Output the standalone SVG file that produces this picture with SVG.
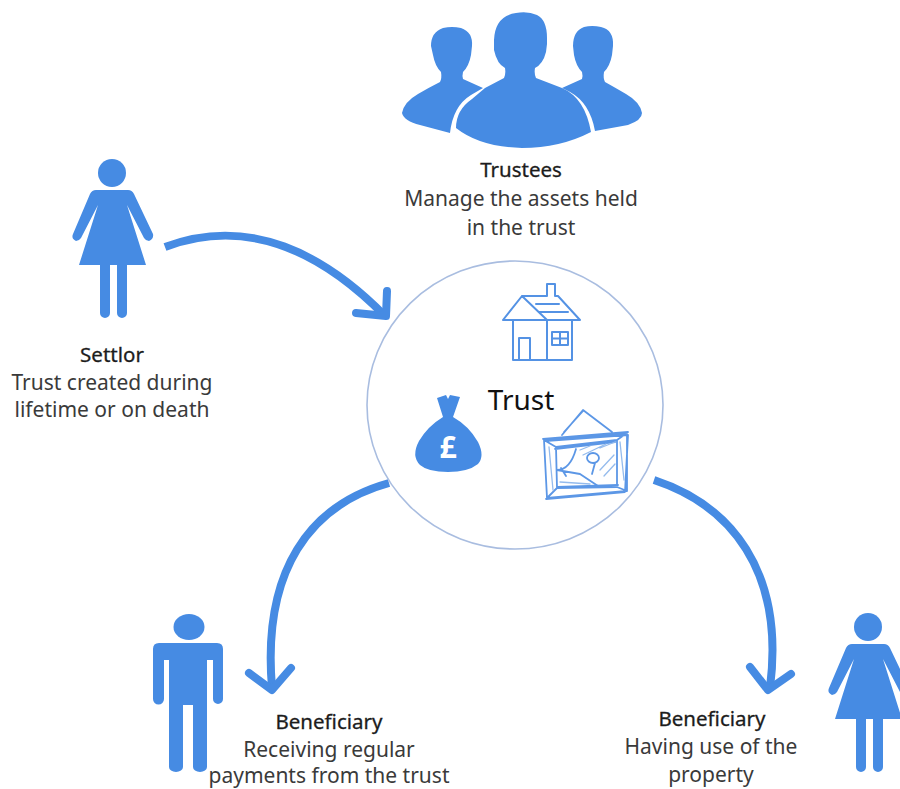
<svg xmlns="http://www.w3.org/2000/svg" width="900" height="789" viewBox="0 0 900 789">
<style>
.f{fill:#468be3}
.t{font-family:"Noto Sans","Open Sans","Liberation Sans",sans-serif;font-size:21px;fill:#3a3a3a;text-anchor:middle}
.b{fill:#1c1c1c;font-size:20.500px;stroke:#1c1c1c;stroke-width:.3}
.c{fill:none;stroke:#468be3;stroke-width:8;stroke-linecap:butt}
.h{fill:none;stroke:#468be3;stroke-width:8;stroke-linecap:round;stroke-linejoin:round}
.l{fill:none;stroke:#5492e4;stroke-width:2;stroke-linejoin:round;stroke-linecap:round}
.s{fill:none;stroke:#5c97e6;stroke-width:1.800;stroke-linejoin:round;stroke-linecap:round}
.s2{fill:none;stroke:#94bbed;stroke-width:1.300;stroke-linecap:round}
</style>
<defs>
<g id="woman">
<circle cx="112" cy="173" r="14" class="f"/>
<path class="f" d="M96 190H128Q132 190 134 194L153 234Q154 239 149 241Q146 241 144 238L127 205L146 265H127V313A5 5 0 0 1 117 313V265H110V313A5 5 0 0 1 100 313V265H79L98 205L81 238Q79 241 76 241Q71 239 73 234L90 194Q92 190 96 190Z"/>
</g>
</defs>
<rect width="900" height="789" fill="#fff"/>
<g id="connectors">
<path class="c" d="M165 247C250 215 325 255 385 316"/>
<path class="h" d="M387 291L386 316L356 313"/>
<path class="c" d="M389 483C310 505 262 570 272 688"/>
<path class="h" d="M249 673L272 690L291 668"/>
<path class="c" d="M654 480C730 505 785 570 770 688"/>
<path class="h" d="M750 667L768 690L791 674"/>
</g>
<g id="trustees">
<path class="f" d="M431 46Q431 32 443 28Q452 26 461 28Q473 32 472 46L471 55Q469 66 463 72Q462 76 463 79L483 88L471 95Q453 106 450 133L420 125Q404 121 402 113Q404 102 418 94Q430 87 440 82Q442 78 441 72Q435 66 433 55Z"/>
<path class="f" d="M613 46Q614 30 601 27Q592 25 584 27Q573 31 573 46L574 55Q576 66 582 72Q583 76 582 79L562 88L570 92Q590 103 595 131L628 125Q642 120 642 113Q640 102 626 94Q614 87 605 82Q603 78 604 72Q610 66 612 55Z"/>
<path class="f" d="M494 40Q495 16 516 13Q528 11 537 15Q547 20 547 38V44L546 52Q543 64 535 68Q534 74 536 78L562 88Q585 98 591 132Q560 148 522 148Q480 147 456 128Q456 110 472 99L485 88L504 78Q506 74 505 68Q497 64 494 50Z"/>
</g>
<g id="trustees-label">
<text class="t b" x="521" y="177">Trustees</text>
<text class="t" x="521" y="206">Manage the assets held</text>
<text class="t" x="521" y="235">in the trust</text>
</g>
<g id="settlor">
<use href="#woman"/>
<text class="t b" x="112" y="362">Settlor</text>
<text class="t" x="112" y="390">Trust created during</text>
<text class="t" x="112" y="417">lifetime or on death</text>
</g>
<g id="trust">
<ellipse cx="515" cy="405" rx="148" ry="144" fill="#fff" stroke="#a9bde0" stroke-width="1.600"/>
<text class="t" x="521" y="410" style="font-size:28px;fill:#111">Trust</text>
<g id="house">
<path class="l" d="M503 320L522 296L547 320M522 296H547V284H555V296H558L580 320M503 320H580M513 320V360H572V320M547 320V360M519 360V338H530V360M552 332H568V345H552ZM560 332V345M552 338.500H568M536 304H559M539 312H568"/>
</g>
<g id="money">
<path class="f" d="M437 398L446 395L448 399L450 395L460 397L453 417Q469 426 478 442Q485 456 478 464Q468 472 448 472Q428 472 420 465Q411 456 419 441Q428 426 443 417Z"/>
<text x="448" y="458" style="font-family:'Noto Sans',sans-serif;font-size:30px;font-weight:700;fill:#fff;text-anchor:middle">£</text>
</g>
<g id="painting">
<path class="s" d="M544 440L627 433L627 491L547 498ZM543 439L628 432M545 441L628 435L625 492L546 499M556 447L617 440L617 487L557 488ZM555 449L615 442M558 487L618 485M544 440L556 447M627 433L617 440M627 491L617 487M547 498L557 488M562 435L583 410L612 432M564 432L583 411"/>
<path class="s" d="M557 470Q570 470 576 449M557 470L580 474L598 486M592 474L595 463M587 458A6 5 0 1 1 599 458A6 5 0 1 1 587 458M561 468L566 476"/>
<path class="s2" d="M580 450L590 446M583 455L606 444M600 470L614 455M604 476L615 464M600 448L615 442M620 442L624 480M549 447L553 490M560 482L590 484"/>
</g>
</g>
<g id="beneficiary-man">
<ellipse cx="189" cy="627" rx="15.500" ry="13" class="f"/>
<path class="f" d="M159 643H217Q223 643 223 649V699A5 5 0 0 1 213 699V660H207V767A7 5 0 0 1 193 767V705H183V767A7 5 0 0 1 169 767V660H164V699A5 5 0 0 1 153 699V649Q153 643 159 643Z"/>
<text class="t b" x="329" y="729">Beneficiary</text>
<text class="t" x="329" y="757">Receiving regular</text>
<text class="t" x="329" y="783">payments from the trust</text>
</g>
<g id="beneficiary-woman">
<use href="#woman" x="756" y="454"/>
<text class="t b" x="712" y="726">Beneficiary</text>
<text class="t" x="711" y="754">Having use of the</text>
<text class="t" x="711" y="782">property</text>
</g>
</svg>
